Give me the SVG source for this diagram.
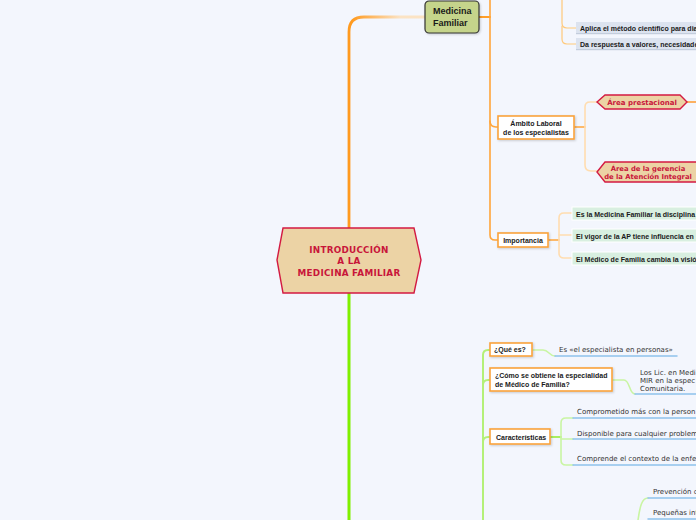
<svg xmlns="http://www.w3.org/2000/svg" width="696" height="520" viewBox="0 0 696 520">
<defs>
<linearGradient id="gOr" gradientUnits="userSpaceOnUse" x1="352" y1="0" x2="400" y2="0">
<stop offset="0" stop-color="#ff9a1f"/>
<stop offset="1" stop-color="#fbe3c4"/>
</linearGradient>
<filter id="sh" x="-10%" y="-10%" width="130%" height="140%">
<feDropShadow dx="1" dy="1" stdDeviation="0.8" flood-color="#000" flood-opacity="0.18"/>
</filter>
</defs>
<style>
.bg{fill:#f3f6fd}
.c{fill:none;stroke-linecap:round;stroke-linejoin:round}
.o1{stroke:#ffa53a;stroke-width:1.6}
.o2{stroke:#ffc97a;stroke-width:1.2}
.o3{stroke:#ffddb0;stroke-width:1.6}
.g2{stroke:#b4f078;stroke-width:2}
.g3{stroke:#c9f5a3;stroke-width:1.6}
.bl{stroke:#8fc2ec;stroke-width:1.5}
.onode{fill:#fff;stroke:#fba33c;stroke-width:1.6}
.hex{fill:#ecd3a5;stroke:#d31a42;stroke-width:1.4}
.tb{font-family:"Liberation Sans",Arial,sans-serif;font-weight:bold;font-size:7px;fill:#1a1a1a}
.tr{font-family:"DejaVu Sans",Verdana,sans-serif;font-size:7px;fill:#333}
.th{font-family:"DejaVu Sans",Verdana,sans-serif;font-weight:bold;font-size:7px;fill:#c8163a}
.mint{fill:#d8efe0;stroke:#ffffff;stroke-width:1}
.gray{fill:#dce3ef}
</style>
<rect class="bg" x="0" y="0" width="696" height="520"/>
<g id="connectors">
<path class="c" d="M349,228 V32 Q349,17 364,17 H425" stroke="url(#gOr)" stroke-width="2.8"/>
<path class="c" d="M349,293 V520" stroke="#80f000" stroke-width="3"/>
<path class="c" stroke="#ff9f2a" stroke-width="2" d="M479,17 H490"/>
<path class="c o1" d="M490,0 V235 Q490,240 495,240 H498"/>
<path class="c o1" d="M490,121 Q490,127 496,127 H498"/>
<path class="c o2" d="M562,0 V23 Q562,28 567,28 H576"/>
<path class="c o2" d="M562,26 V39 Q562,44 567,44 H576"/>
<path class="c o1" d="M574,127 H585"/>
<path class="c o3" d="M598,102 H590 Q585,102 585,107 V165 Q585,171 591,171 H598"/>
<path class="c" stroke="#ff9a2e" stroke-width="1.6" d="M687,102 H696"/>
<path class="c o1" d="M548,240 H559"/>
<path class="c o3" d="M572,213 H564 Q559,213 559,218 V253 Q559,258 564,258 H572"/>
<path class="c o3" d="M559,235 H572"/>
<path class="c g2" d="M483,520 V355 Q483,350 488,350 H490"/>
<path class="c g2" d="M483,385 Q483,380 488,380 H490"/>
<path class="c g2" d="M483,442 Q483,437 488,437 H490"/>
<path class="c g3" d="M532,350 H543 C549,350 549,356 555,356"/>
<path class="c bl" d="M555,356 H677"/>
<path class="c g3" d="M612,380 H624 C630,380 629,394 635,394"/>
<path class="c bl" d="M635,394 H696"/>
<path class="c" stroke="#a9ee62" stroke-width="2" d="M550,437 H561"/>
<path class="c g3" d="M573,418 H566 Q561,418 561,423 V460 Q561,465 566,465 H573"/>
<path class="c g3" d="M561,439 H573"/>
<path class="c bl" d="M573,418 H696"/>
<path class="c bl" d="M573,439 H696"/>
<path class="c bl" d="M573,465 H696"/>
<path class="c g3" d="M638,520 C640,506 642,498 648,498"/>
<path class="c bl" d="M648,498 H696"/>
<path class="c bl" d="M648,519 H696"/>
</g>
<g id="central">
<polygon class="hex" points="277,260 283,228 414,228 421,260 414,293 283,293"/>
<text x="349" y="253" text-anchor="middle" class="th" style="font-size:8.8px;letter-spacing:0.25px">INTRODUCCIÓN</text>
<text x="349" y="264" text-anchor="middle" class="th" style="font-size:8.8px;letter-spacing:0.25px">A LA</text>
<text x="349" y="275.5" text-anchor="middle" class="th" style="font-size:8.8px;letter-spacing:0.25px">MEDICINA FAMILIAR</text>
</g>
<g id="medicina-familiar">
<rect x="425" y="1" width="54" height="32" rx="4" fill="#c5d48b" stroke="#333" stroke-width="1.2" filter="url(#sh)"/>
<text x="433" y="14" class="tb" style="font-size:9px">Medicina</text>
<text x="433" y="25.5" class="tb" style="font-size:9px">Familiar</text>
</g>
<g id="aplica">
<rect class="gray" x="576" y="22" width="125" height="12"/>
<rect x="576" y="33" width="125" height="1.2" fill="#c3cddc"/>
<text x="580" y="30.5" class="tb">Aplica el método científico para dia</text>
</g>
<g id="da-respuesta">
<rect class="gray" x="576" y="38" width="125" height="12"/>
<rect x="576" y="49" width="125" height="1.2" fill="#c3cddc"/>
<text x="580" y="46.5" class="tb">Da respuesta a valores, necesidade</text>
</g>
<g id="ambito">
<rect class="onode" x="498" y="116" width="76" height="23" filter="url(#sh)"/>
<text x="536" y="126" text-anchor="middle" class="tb">Ámbito Laboral</text>
<text x="536" y="134.5" text-anchor="middle" class="tb">de los especialistas</text>
</g>
<g id="area-prestacional">
<polygon class="hex" points="597,102 605,95 680,95 687,102 680,109 605,109"/>
<text x="642" y="104.5" text-anchor="middle" class="th">Área prestacional</text>
</g>
<g id="area-gerencia">
<polygon class="hex" points="597,172 605,162 700,162 704,172 700,182 605,182"/>
<text x="648" y="170.5" text-anchor="middle" class="th" style="font-size:6.8px">Área de la gerencia</text>
<text x="648" y="178.5" text-anchor="middle" class="th" style="font-size:6.8px">de la Atención Integral</text>
</g>
<g id="importancia">
<rect class="onode" x="498" y="233" width="50" height="14" filter="url(#sh)"/>
<text x="523" y="243" text-anchor="middle" class="tb">Importancia</text>
</g>
<g id="imp-1">
<rect class="mint" x="572" y="207" width="130" height="13"/>
<text x="576" y="216.5" class="tb">Es la Medicina Familiar la disciplina</text>
</g>
<g id="imp-2">
<rect class="mint" x="572" y="229" width="130" height="13"/>
<text x="576" y="238.5" class="tb">El vigor de la AP tiene influencia en</text>
</g>
<g id="imp-3">
<rect class="mint" x="572" y="252" width="130" height="13"/>
<text x="576" y="261.5" class="tb">El Médico de Familia cambia la visió</text>
</g>
<g id="que-es">
<rect class="onode" x="490" y="343" width="42" height="13" filter="url(#sh)"/>
<text x="494" y="352" class="tb">¿Qué es?</text>
</g>
<g id="que-es-text">
<text x="559" y="352" class="tr">Es «el especialista en personas»</text>
</g>
<g id="como">
<rect class="onode" x="490" y="368" width="122" height="23" filter="url(#sh)"/>
<text x="495" y="378" class="tb">¿Cómo se obtiene la especialidad</text>
<text x="495" y="386.5" class="tb">de Médico de Familia?</text>
</g>
<g id="como-text">
<text x="640" y="374.5" class="tr">Los Lic. en Medi</text>
<text x="640" y="382.5" class="tr">MIR en la espec</text>
<text x="640" y="391" class="tr">Comunitaria.</text>
</g>
<g id="caracteristicas">
<rect class="onode" x="490" y="429" width="60" height="15" filter="url(#sh)"/>
<text x="496" y="439.5" class="tb">Características</text>
</g>
<g id="car-1"><text x="577" y="413.5" class="tr">Comprometido más con la person</text></g>
<g id="car-2"><text x="577" y="435.5" class="tr">Disponible para cualquier problem</text></g>
<g id="car-3"><text x="577" y="461" class="tr">Comprende el contexto de la enfe</text></g>
<g id="prevencion"><text x="653" y="493.5" class="tr">Prevención c</text></g>
<g id="pequenas"><text x="653" y="514.5" class="tr">Pequeñas int</text></g>
</svg>
